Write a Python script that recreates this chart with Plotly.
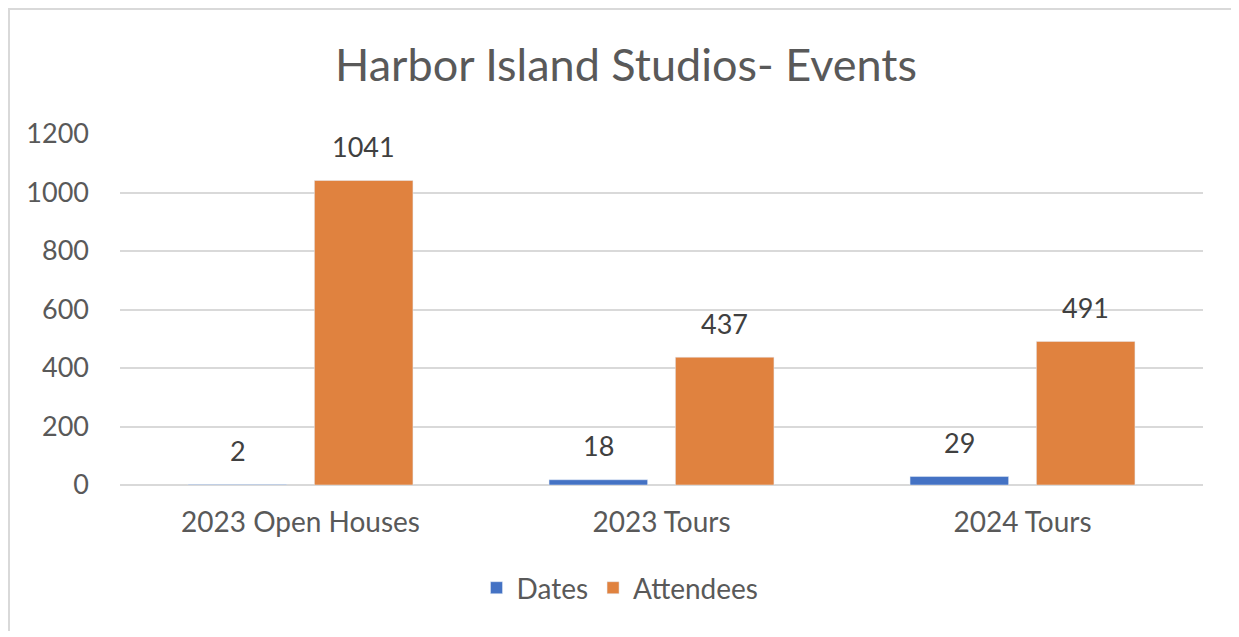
import plotly.graph_objects as go

categories = ["2023 Open Houses", "2023 Tours", "2024 Tours"]
dates = [2, 18, 29]
attendees = [1041, 437, 491]
y_ticks = [0, 200, 400, 600, 800, 1000, 1200]

OFF = 8  # page body margin
SAFE = 6  # keep page from overflowing the window
W, H = 1239 - OFF - SAFE, 637 - OFF - SAFE
L, R, T, B = 112, 36 - SAFE, 126, 152 - SAFE
PW, PH = W - L - R, H - T - B

def px_x(p):
    return (p - OFF - L) / PW

def px_y(p):
    return (H - B - (p - OFF)) / PH

FONT = "Lato"
GREY = "#595959"
LABEL = "#404040"
COLORS = {"Dates": "#4472C4", "Attendees": "#E0823F"}

fig = go.Figure()
fig.add_trace(go.Bar(name="Dates", x=categories, y=dates, marker_color=COLORS["Dates"]))
fig.add_trace(go.Bar(name="Attendees", x=categories, y=attendees, marker_color=COLORS["Attendees"]))

# data labels
for vals, xs in ((dates, -63), (attendees, 63)):
    for c, v in zip(categories, vals):
        fig.add_annotation(x=c, y=v, text=str(v), showarrow=False, xshift=xs, yshift=34,
                           yanchor="middle", font=dict(size=27, color=LABEL, family=FONT))

fig.update_layout(
    width=W, height=H,
    margin=dict(l=L, r=R, t=T, b=B, autoexpand=False),
    paper_bgcolor="white", plot_bgcolor="white",
    barmode="group", bargap=0.30, bargroupgap=0.22,
    font=dict(family=FONT, color=GREY),
    title=dict(text="Harbor Island Studios- Events", x=px_x(626), xref="paper", xanchor="center",
               y=1 - (65 - OFF) / H, yanchor="middle", font=dict(size=45, color=GREY, family=FONT)),
    legend=dict(orientation="h", x=px_x(620), xanchor="center", y=px_y(588), yanchor="middle",
                font=dict(size=28, color=GREY, family=FONT), itemwidth=30, traceorder="normal"),
)
fig.update_xaxes(showgrid=False, showline=False, ticks="", tickfont=dict(size=28, color=GREY, family=FONT),
                 ticklabelstandoff=18)
fig.update_yaxes(range=[0, 1200], tickvals=y_ticks, showgrid=True, gridcolor="#D9D9D9", gridwidth=2,
                 zeroline=True, zerolinecolor="#D9D9D9", zerolinewidth=2, showline=False,
                 tickfont=dict(size=27, color=GREY, family=FONT), ticklabelstandoff=30)

# outer frame of the chart (top and left edges visible)
fig.add_shape(type="line", xref="paper", yref="paper", x0=px_x(OFF), x1=px_x(1239 - SAFE), y0=px_y(OFF + 1), y1=px_y(OFF + 1),
              line=dict(color="#D9D9D9", width=2))
fig.add_shape(type="line", xref="paper", yref="paper", x0=px_x(OFF + 1), x1=px_x(OFF + 1), y0=px_y(OFF), y1=px_y(637 - SAFE),
              line=dict(color="#D9D9D9", width=2))

fig.write_html("out.html")
